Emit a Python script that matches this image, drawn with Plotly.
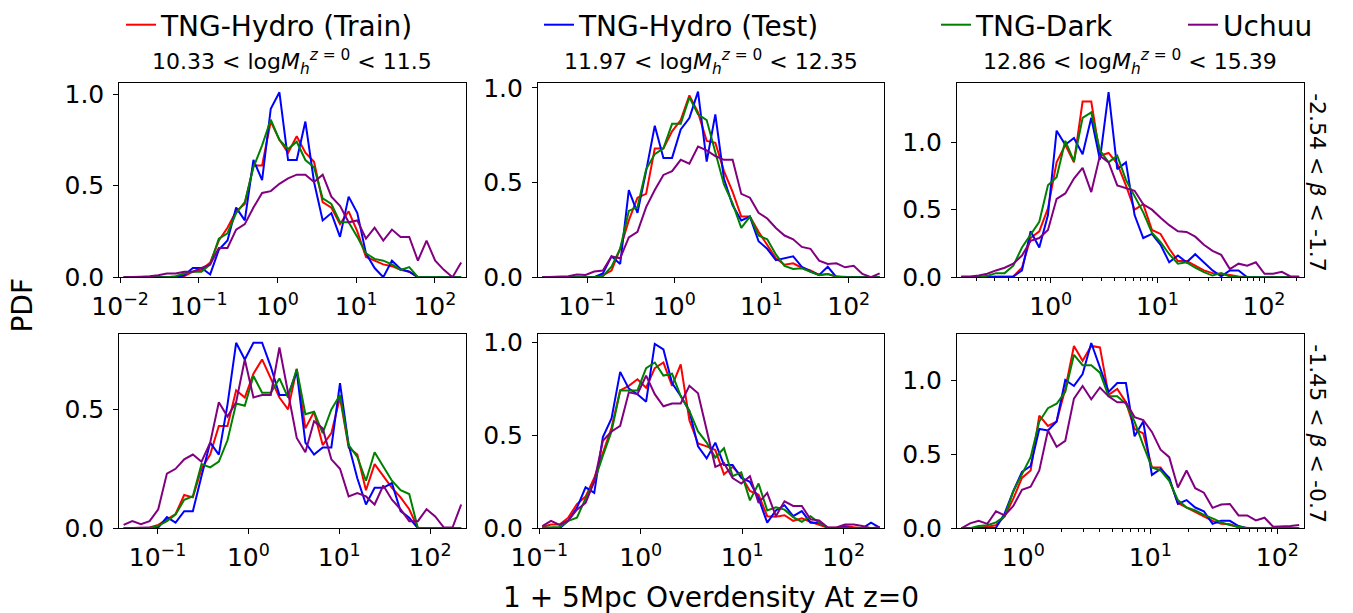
import numpy as np
import plotly.graph_objects as go

W, H = 1353, 613

series_names = ["TNG-Hydro (Train)", "TNG-Hydro (Test)", "TNG-Dark", "Uchuu"]
series_colors = ["#ff0000", "#0000ff", "#008000", "#800080"]

col_titles = [
    "10.33 &lt; log<i>M</i><sub><i>h</i></sub><sup><i>z</i> = 0</sup> &lt; 11.5",
    "11.97 &lt; log<i>M</i><sub><i>h</i></sub><sup><i>z</i> = 0</sup> &lt; 12.35",
    "12.86 &lt; log<i>M</i><sub><i>h</i></sub><sup><i>z</i> = 0</sup> &lt; 15.39",
]
row_titles = ["-2.54 &lt; <i>β</i> &lt; -1.7", "-1.45 &lt; <i>β</i> &lt; -0.7"]
x_title = "1 + 5Mpc Overdensity At z=0"
y_title = "PDF"

x_tick_exponents = [-2, -1, 0, 1, 2]
y_tick_values = [0.0, 0.5, 1.0]

n_bins = 40
# log10 of the histogram's outer bin edges, per panel (row-major)
log_edges = [
    [-2.011, 2.389], [-1.563, 2.404], [-0.879, 2.370],
    [-1.421, 2.390], [-1.013, 2.398], [-0.522, 2.206],
]
y_max = [1.06, 1.025, 1.437, 0.816, 1.042, 1.309]

# ---- panel 1 (row 1, col 1)
p1_train = [0, 0, 0, 0, 0, 0, 0, 0.005, 0.03, 0.04,
            0.08, 0.2, 0.27, 0.36, 0.4, 0.61, 0.61, 0.85, 0.75, 0.68,
            0.77, 0.68, 0.63, 0.41, 0.38, 0.29, 0.36, 0.25, 0.11, 0.09,
            0.07, 0.06, 0.04, 0.03, 0, 0, 0, 0, 0, 0]
p1_test = [0, 0, 0, 0, 0, 0, 0, 0.01, 0.05, 0.05,
           0.015, 0.15, 0.2, 0.38, 0.31, 0.64, 0.53, 0.92, 1.01, 0.64,
           0.64, 0.85, 0.52, 0.31, 0.35, 0.22, 0.44, 0.35, 0.13, 0.05,
           0.0, 0.09, 0.045, 0.03, 0, 0, 0, 0, 0, 0]
p1_dark = [0, 0, 0, 0, 0, 0, 0.005, 0.02, 0.03, 0.03,
           0.07, 0.21, 0.24, 0.35, 0.41, 0.6, 0.72, 0.86, 0.75, 0.7,
           0.74, 0.64, 0.6, 0.43, 0.4, 0.3, 0.3, 0.22, 0.13, 0.1,
           0.09, 0.07, 0.04, 0.055, 0, 0, 0, 0, 0, 0]
p1_uchuu = [0, 0, 0.003, 0.005, 0.01, 0.02, 0.02, 0.03, 0.03, 0.05,
            0.07, 0.16, 0.16, 0.26, 0.29, 0.38, 0.46, 0.47, 0.51, 0.54,
            0.56, 0.56, 0.52, 0.56, 0.44, 0.39, 0.3, 0.31, 0.21, 0.27,
            0.2, 0.26, 0.22, 0.22, 0.09, 0.2, 0.09, 0.04, 0.0, 0.08]

# ---- panel 2 (row 1, col 2)
p2_train = [0, 0, 0, 0, 0, 0, 0, 0.01, 0.035, 0.15,
            0.3, 0.42, 0.44, 0.68, 0.68, 0.77, 0.83, 0.96, 0.87, 0.72,
            0.71, 0.56, 0.45, 0.32, 0.32, 0.24, 0.17, 0.1, 0.066, 0.073,
            0.05, 0.035, 0.012, 0.017, 0.003, 0, 0, 0, 0, 0]
p2_test = [0, 0, 0, 0, 0, 0, 0, 0.02, 0.11, 0.07,
           0.46, 0.34, 0.56, 0.8, 0.63, 0.63, 0.78, 0.84, 0.98, 0.61,
           0.86, 0.52, 0.38, 0.3, 0.32, 0.19, 0.15, 0.09, 0.1, 0.11,
           0.055, 0.03, 0.012, 0.055, 0, 0, 0, 0, 0, 0]
p2_dark = [0, 0, 0, 0, 0, 0, 0, 0.005, 0.055, 0.15,
           0.35, 0.37, 0.57, 0.65, 0.68, 0.81, 0.81, 0.95, 0.86, 0.83,
           0.66, 0.49, 0.39, 0.26, 0.32, 0.22, 0.2, 0.12, 0.06, 0.043,
           0.047, 0.03, 0.01, 0.017, 0.003, 0, 0, 0, 0, 0]
p2_uchuu = [0, 0.002, 0.003, 0.005, 0.014, 0.012, 0.03, 0.035, 0.11, 0.1,
            0.21, 0.24, 0.37, 0.46, 0.54, 0.56, 0.62, 0.6, 0.69, 0.67,
            0.64, 0.62, 0.62, 0.44, 0.42, 0.34, 0.31, 0.26, 0.22, 0.2,
            0.16, 0.15, 0.087, 0.07, 0.073, 0.052, 0.06, 0.017, 0.0, 0.02]

# ---- panel 3 (row 1, col 3)
p3_train = [0, 0, 0, 0, 0, 0, 0.005, 0.07, 0.29, 0.34,
            0.51, 0.85, 0.98, 0.85, 1.3, 1.3, 0.9, 0.92, 0.84, 0.68,
            0.5, 0.54, 0.35, 0.32, 0.21, 0.12, 0.12, 0.085, 0.05, 0.03,
            0.025, 0.017, 0.005, 0, 0, 0, 0, 0, 0, 0]
p3_test = [0, 0, 0, 0, 0, 0, 0.005, 0.05, 0.34, 0.22,
           0.46, 1.085, 0.98, 1.03, 0.91, 1.18, 0.87, 1.37, 0.8, 0.85,
           0.46, 0.29, 0.32, 0.24, 0.11, 0.16, 0.11, 0.17, 0.11, 0.05,
           0.007, 0.05, 0.05, 0, 0, 0, 0, 0, 0, 0]
p3_dark = [0, 0, 0, 0.01, 0.03, 0.03, 0.085, 0.22, 0.32, 0.41,
           0.68, 0.74, 1.01, 0.86, 1.18, 1.22, 0.94, 0.85, 0.9, 0.72,
           0.6, 0.48, 0.33, 0.26, 0.17, 0.1, 0.11, 0.07, 0.037, 0.012,
           0.03, 0.005, 0, 0, 0, 0, 0, 0, 0, 0]
p3_uchuu = [0.005, 0.005, 0.012, 0.025, 0.05, 0.07, 0.1, 0.16, 0.27, 0.29,
            0.35, 0.58, 0.62, 0.73, 0.81, 0.63, 0.9, 0.85, 0.68, 0.66,
            0.64, 0.54, 0.5, 0.44, 0.385, 0.34, 0.335, 0.3, 0.24, 0.195,
            0.165, 0.06, 0.1, 0.085, 0.11, 0.025, 0.025, 0.04, 0.005, 0.005]

# ---- panel 4 (row 2, col 1)
p4_train = [0, 0, 0, 0.003, 0.014, 0.037, 0.06, 0.14, 0.13, 0.25,
            0.31, 0.43, 0.43, 0.58, 0.55, 0.65, 0.71, 0.63, 0.55, 0.5,
            0.67, 0.42, 0.49, 0.35, 0.4, 0.55, 0.34, 0.31, 0.16, 0.27,
            0.22, 0.17, 0.13, 0.08, 0, 0, 0, 0, 0, 0]
p4_test = [0, 0, 0, 0, 0.003, 0.047, 0.024, 0.072, 0.072, 0.22,
           0.36, 0.31, 0.52, 0.78, 0.71, 0.78, 0.78, 0.68, 0.56, 0.56,
           0.66, 0.36, 0.31, 0.34, 0.34, 0.61, 0.35, 0.21, 0.1, 0.17,
           0.17, 0.19, 0.072, 0.044, 0, 0, 0, 0, 0, 0]
p4_dark = [0, 0, 0, 0, 0.01, 0.03, 0.058, 0.12, 0.135, 0.27,
           0.256, 0.28, 0.37, 0.525, 0.515, 0.64, 0.57, 0.57, 0.63, 0.55,
           0.67, 0.48, 0.49, 0.4, 0.5, 0.56, 0.35, 0.3, 0.2, 0.32,
           0.26, 0.2, 0.16, 0.144, 0, 0, 0, 0, 0, 0]
p4_uchuu = [0.014, 0.03, 0.017, 0.03, 0.08, 0.23, 0.25, 0.29, 0.31, 0.28,
            0.36, 0.53, 0.47, 0.53, 0.71, 0.55, 0.56, 0.56, 0.76, 0.57,
            0.38, 0.32, 0.45, 0.42, 0.29, 0.25, 0.134, 0.148, 0.134, 0.1,
            0.18, 0.12, 0.08, 0.03, 0.03, 0.08, 0.05, 0.003, 0.003, 0.1]

# ---- panel 5 (row 2, col 2)
p5_train = [0.007, 0.02, 0.02, 0.057, 0.13, 0.17, 0.27, 0.41, 0.54, 0.74,
            0.765, 0.8, 0.755, 0.86, 0.89, 0.765, 0.88, 0.58, 0.455, 0.44,
            0.42, 0.29, 0.33, 0.28, 0.2, 0.18, 0.065, 0.062, 0.07, 0.04,
            0.053, 0.035, 0.02, 0.003, 0.003, 0.012, 0.005, 0, 0, 0]
p5_test = [0.003, 0.003, 0, 0.04, 0.11, 0.22, 0.19, 0.49, 0.59, 0.84,
           0.75, 0.72, 0.68, 0.99, 0.96, 0.78, 0.71, 0.63, 0.44, 0.375,
           0.46, 0.34, 0.34, 0.27, 0.25, 0.16, 0.03, 0.096, 0.124, 0.065,
           0.092, 0.03, 0.03, 0.003, 0, 0.005, 0, 0, 0.03, 0.003]
p5_dark = [0.003, 0.007, 0.007, 0.04, 0.057, 0.16, 0.25, 0.39, 0.52, 0.74,
           0.74, 0.74, 0.86, 0.89, 0.82, 0.83, 0.71, 0.63, 0.52, 0.46,
           0.38, 0.43, 0.28, 0.3, 0.15, 0.24, 0.096, 0.113, 0.1, 0.06,
           0.035, 0.065, 0.03, 0.003, 0, 0, 0, 0, 0, 0]
p5_uchuu = [0.012, 0.04, 0.018, 0.042, 0.1, 0.136, 0.25, 0.47, 0.52, 0.55,
            0.73, 0.72, 0.82, 0.72, 0.655, 0.67, 0.67, 0.765, 0.725, 0.52,
            0.33, 0.35, 0.27, 0.24, 0.28, 0.136, 0.19, 0.065, 0.145, 0.12,
            0.12, 0.048, 0.042, 0.004, 0.004, 0.02, 0.02, 0.012, 0, 0.007]

# ---- panel 6 (row 2, col 3)
p6_train = [0, 0, 0.003, 0.01, 0.02, 0.08, 0.2, 0.34, 0.39, 0.76,
            0.69, 0.72, 0.94, 1.23, 1.13, 1.23, 1.22, 0.9, 0.94, 0.85,
            0.67, 0.64, 0.41, 0.41, 0.33, 0.17, 0.14, 0.115, 0.08, 0.05,
            0.03, 0.027, 0.005, 0, 0, 0, 0, 0, 0, 0]
p6_test = [0, 0, 0, 0, 0.003, 0.1, 0.25, 0.38, 0.42, 0.67,
           0.66, 0.72, 1.0, 0.96, 1.04, 1.25, 1.09, 0.92, 0.98, 0.98,
           0.62, 0.72, 0.36, 0.4, 0.34, 0.164, 0.19, 0.14, 0.115, 0.03,
           0.05, 0.05, 0.015, 0, 0, 0, 0, 0, 0, 0]
p6_dark = [0, 0, 0.015, 0.02, 0.04, 0.08, 0.25, 0.37, 0.48, 0.72,
           0.81, 0.84, 0.92, 1.17, 1.1, 1.1, 1.05, 0.89, 0.89, 0.84,
           0.72, 0.56, 0.41, 0.39, 0.32, 0.19, 0.14, 0.12, 0.09, 0.067,
           0.04, 0.022, 0.01, 0, 0, 0, 0, 0, 0, 0]
p6_uchuu = [0, 0.033, 0.05, 0.03, 0.115, 0.087, 0.15, 0.26, 0.28, 0.39,
            0.66, 0.55, 0.59, 0.875, 0.96, 0.87, 0.95, 0.89, 0.85, 0.85,
            0.75, 0.73, 0.65, 0.53, 0.48, 0.275, 0.39, 0.27, 0.24, 0.138,
            0.16, 0.164, 0.087, 0.087, 0.053, 0.071, 0.01, 0.01, 0.015, 0.022]

panels = [
    [p1_train, p1_test, p1_dark, p1_uchuu],
    [p2_train, p2_test, p2_dark, p2_uchuu],
    [p3_train, p3_test, p3_dark, p3_uchuu],
    [p4_train, p4_test, p4_dark, p4_uchuu],
    [p5_train, p5_test, p5_dark, p5_uchuu],
    [p6_train, p6_test, p6_dark, p6_uchuu],
]

# ---------------- layout (pixel boxes of the panels)
col_px = [(119.3, 465.5), (538.0, 884.0), (957.0, 1303.5)]
row_px = [(77.0, 273.3), (331.0, 527.3)]
FONT = "DejaVu Sans"

def fx(px):
    return px / W

def fy(py):
    return 1 - py / H

fig = go.Figure()
layout = dict(
    template="none",
    width=W, height=H, autosize=False,
    margin=dict(l=0, r=0, t=0, b=0, pad=0),
    paper_bgcolor="white", plot_bgcolor="white",
    font=dict(family=FONT, color="black"),
    showlegend=True,
)

axis_common = dict(
    showline=True, mirror=True, linecolor="black", linewidth=1.1,
    ticks="outside", ticklen=5, tickwidth=1.1, tickcolor="black",
    showgrid=False, zeroline=False, automargin=False,
    tickfont=dict(size=25, family=FONT, color="black"),
)

x_tick_vals = [10.0 ** e for e in x_tick_exponents]
x_tick_text = ["10<sup>%s</sup>" % (str(e).replace("-", "\u2212")) for e in x_tick_exponents]
x_minor_vals = [m * 10.0 ** e for e in range(-1, 3) for m in range(2, 10)]

for i in range(6):
    r, c = divmod(i, 3)
    s = "" if i == 0 else str(i + 1)
    lo, hi = log_edges[i]
    centers = 10 ** (lo + (np.arange(n_bins) + 0.5) * (hi - lo) / n_bins)
    for j, vals in enumerate(panels[i]):
        fig.add_trace(go.Scatter(
            x=centers, y=vals, mode="lines",
            line=dict(color=series_colors[j], width=2),
            name=series_names[j],
            xaxis="x" + s, yaxis="y" + s,
            showlegend=(i == 0),
            legend="legend" if j == 0 else "legend%d" % (j + 1),
            hoverinfo="skip",
        ))
    xa = dict(axis_common)
    xa.update(domain=[fx(col_px[c][0]), fx(col_px[c][1])], anchor="y" + s,
              type="log", range=[lo, hi],
              tickmode="array", tickvals=x_tick_vals, ticktext=x_tick_text,
              ticklabelstandoff=2)
    if c == 2:
        xa["minor"] = dict(ticks="outside", ticklen=3, tickwidth=0.9,
                           tickcolor="black", showgrid=False,
                           tickmode="array", tickvals=x_minor_vals)
    ya = dict(axis_common)
    ya.update(domain=[fy(row_px[r][1]), fy(row_px[r][0])], anchor="x" + s,
              range=[0, y_max[i]], tickmode="array",
              tickvals=[v for v in y_tick_values if v <= y_max[i]],
              ticktext=["%.1f" % v for v in y_tick_values if v <= y_max[i]],
              ticklabelstandoff=4)
    layout["xaxis" + s] = xa
    layout["yaxis" + s] = ya

# legends, one per series, laid out in a row on top
legend_text_px = [161, 579, 976, 1223]
for j in range(4):
    key = "legend" if j == 0 else "legend%d" % (j + 1)
    layout[key] = dict(
        x=fx(legend_text_px[j] - 40), xanchor="left",
        y=fy(18), yanchor="middle",
        orientation="h", bgcolor="rgba(0,0,0,0)", borderwidth=0,
        font=dict(size=28, family=FONT, color="black"),
    )

annotations = []
for c in range(3):
    annotations.append(dict(
        text=col_titles[c], x=fx((col_px[c][0] + col_px[c][1]) / 2), y=fy(56),
        xref="paper", yref="paper", xanchor="center", yanchor="middle",
        showarrow=False, font=dict(size=22, family=FONT)))
for r in range(2):
    annotations.append(dict(
        text=row_titles[r], x=fx(1318), y=fy((row_px[r][0] + row_px[r][1]) / 2 + 2),
        xref="paper", yref="paper", xanchor="center", yanchor="middle",
        textangle=90, showarrow=False, font=dict(size=22, family=FONT)))
annotations.append(dict(
    text=y_title, x=fx(23), y=fy(302), xref="paper", yref="paper",
    xanchor="center", yanchor="middle", textangle=-90, showarrow=False,
    font=dict(size=28, family=FONT)))
annotations.append(dict(
    text=x_title, x=fx(711), y=fy(597), xref="paper", yref="paper",
    xanchor="center", yanchor="middle", showarrow=False,
    font=dict(size=28, family=FONT)))
layout["annotations"] = annotations

fig.update_layout(**layout)
fig.write_html("out.html",
               config={"displayModeBar": False, "staticPlot": False},
               post_script="document.body.style.margin='0px';"
                           "document.body.style.overflow='hidden';")
